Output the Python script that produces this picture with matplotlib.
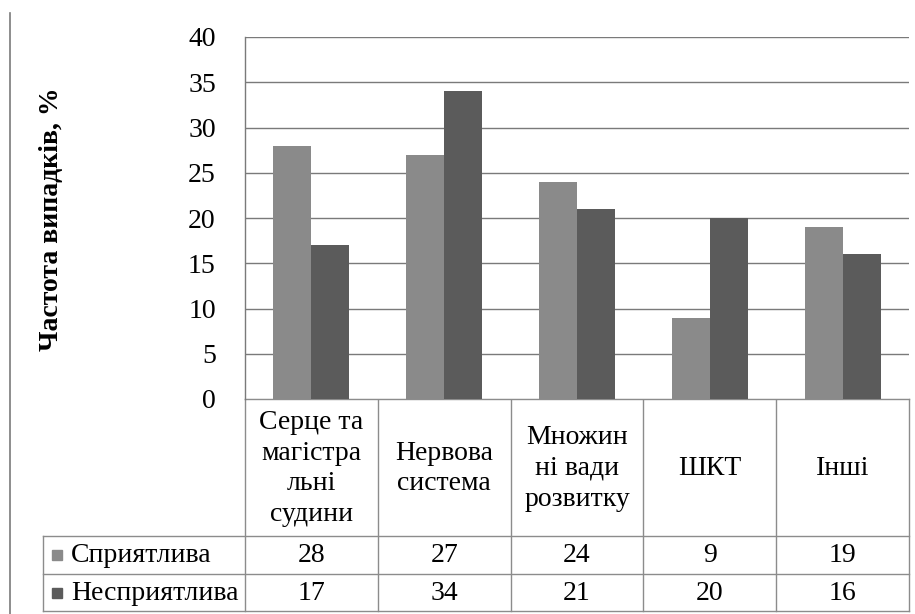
import numpy as np
import matplotlib
matplotlib.use("Agg")
import matplotlib.pyplot as plt
from matplotlib.patches import Rectangle

# Data
categories = ["Серце та\nмагістра\nльні\nсудини", "Нервова\nсистема",
              "Множин\nні вади\nрозвитку", "ШКТ", "Інші"]
series_names = ["Сприятлива", "Несприятлива"]
favourable = [28, 27, 24, 9, 19]
unfavourable = [17, 34, 21, 20, 16]
y_ticks = [0, 5, 10, 15, 20, 25, 30, 35, 40]
y_label = "Частота випадків, %"

colors = ["#8a8a8a", "#5b5b5b"]
line_col = "#8c8c8c"
font = ["Liberation Serif", "DejaVu Serif"]
fs = 20

W, H = 915, 614
fig = plt.figure(figsize=(W / 100, H / 100), dpi=100)

# plot area in pixels
px_left, px_right, px_top, px_bottom = 245, 909, 37, 399
ax = fig.add_axes([px_left / W, 1 - px_bottom / H,
                   (px_right - px_left) / W, (px_bottom - px_top) / H])

n = len(categories)
x = np.arange(n)
bw = 1 / 3.5
ax.bar(x - bw / 2, favourable, width=bw, color=colors[0], zorder=3)
ax.bar(x + bw / 2, unfavourable, width=bw, color=colors[1], zorder=3)

ax.set_xlim(-0.5, n - 0.5)
ax.set_ylim(0, 40)
ax.set_yticks(y_ticks)
ax.set_yticklabels([str(v) for v in y_ticks], fontsize=fs, fontfamily=font)
ax.set_xticks([])
ax.tick_params(axis="y", length=0, pad=21)
ax.yaxis.grid(True, color="#7a7a7a", linewidth=1.0, zorder=0)
for side in ["right", "top", "bottom"]:
    ax.spines[side].set_visible(False)
ax.spines["left"].set_color("#7a7a7a")
ax.spines["left"].set_linewidth(1.0)

fig.text(52 / W, 1 - 219 / H, y_label, rotation=90, ha="center", va="center",
         fontsize=fs, fontweight="bold", fontfamily=font)

# data table drawn in pixel coordinates
tab = fig.add_axes([0, 0, 1, 1], zorder=-1)
tab.set_xlim(0, W)
tab.set_ylim(H, 0)
tab.axis("off")

col_w = (px_right - px_left) / n
edges = [px_left + i * col_w for i in range(n + 1)]
row_cat_bot, row1_bot, row2_bot = 536, 574, 611
leg_left = 43

kw = dict(color=line_col, linewidth=1.0)
for e in edges:
    tab.plot([e, e], [px_bottom, row2_bot], **kw)
tab.plot([px_left, px_right], [px_bottom, px_bottom], **kw)
for yy in [row_cat_bot, row1_bot, row2_bot]:
    tab.plot([leg_left, px_right], [yy, yy], **kw)
tab.plot([leg_left, leg_left], [row_cat_bot, row2_bot], **kw)
# outer chart border on the left
tab.plot([9.5, 9.5], [13, H], color="#7a7a7a", linewidth=1.2)

for i, cat in enumerate(categories):
    cx = (edges[i] + edges[i + 1]) / 2
    tab.text(cx, (px_bottom + row_cat_bot) / 2 + 1, cat, ha="center", va="center",
             fontsize=fs, fontfamily=font, linespacing=1.3)

rows = [(favourable, row_cat_bot, row1_bot),
        (unfavourable, row1_bot, row2_bot)]
for k, (vals, top, bot) in enumerate(rows):
    cy = (top + bot) / 2
    tab.add_patch(Rectangle((52, cy - 5), 10, 10, color=colors[k]))
    tab.text(71, cy + 1, series_names[k], ha="left", va="center",
             fontsize=fs, fontfamily=font)
    for i, v in enumerate(vals):
        cx = (edges[i] + edges[i + 1]) / 2
        tab.text(cx, cy + 1, str(v), ha="center", va="center",
                 fontsize=fs, fontfamily=font)

fig.savefig("out.png", dpi=100, facecolor="white")
